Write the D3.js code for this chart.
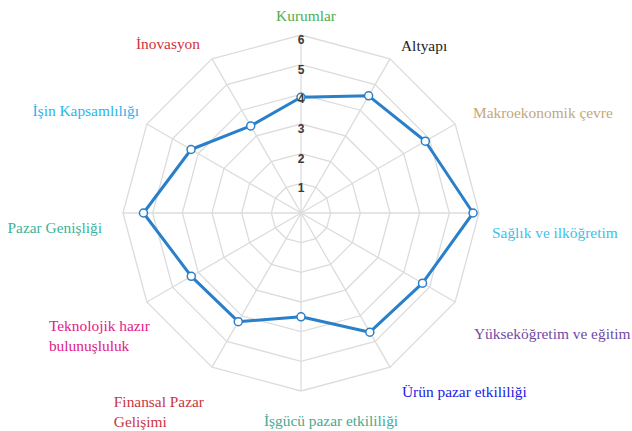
<!DOCTYPE html>
<html>
<head>
<meta charset="utf-8">
<script src="https://cdn.jsdelivr.net/npm/d3@7"></script>
<style>
  body { margin: 0; background: #fff; }
  svg { display: block; }
</style>
</head>
<body>
<svg id="radar" width="632" height="431"></svg>
<script>
// pillar names (clockwise from top), scores and label colours
var pillars = ["Kurumlar", "Altyapı", "Makroekonomik çevre", "Sağlık ve ilköğretim",
  "Yükseköğretim ve eğitim", "Ürün pazar etkililiği", "İşgücü pazar etkililiği",
  "Finansal Pazar|Gelişimi", "Teknolojik hazır|bulunuşluluk", "Pazar Genişliği",
  "İşin Kapsamlılığı", "İnovasyon"];
var scores = [3.9, 4.56, 4.84, 5.8, 4.73, 4.64, 3.5, 4.23, 4.27, 5.31, 4.28, 3.39];
var ticks = [1, 2, 3, 4, 5, 6];
var labelColors = ["#4cae4f", "#222222", "#c4a67a", "#3cbfeb", "#6f4aa6", "#2020e8",
  "#4aa890", "#c9363f", "#e2188a", "#3bb39a", "#2cb3ea", "#d3303a"];
// small nudges for the outer labels [dx, dy]
var labelNudge = [[5, -4], [3, 0], [4, -4], [-3, 19], [5, 23], [4, 10], [30, 13],
  [0, 30], [17, 25], [-5, 14], [6, -6], [-4, -2]];

var svg = d3.select("#radar");
var cx = 301, cy = 213, R = 178;

var g = svg.append("g").attr("transform", "translate(" + cx + "," + cy + ")");

var angle = d3.scaleLinear().domain([0, pillars.length]).range([0, 2 * Math.PI]);
var rScale = d3.scaleLinear().domain([0, 6]).range([0, R]);

var ringLine = d3.lineRadial()
  .angle(function(d, i) { return angle(i); })
  .radius(function(d) { return rScale(d); })
  .curve(d3.curveLinearClosed);

/* grid rings */
ticks.forEach(function(t) {
  g.append("path")
    .attr("d", ringLine(pillars.map(function() { return t; })))
    .attr("fill", "none")
    .attr("stroke", "#dcdcdc")
    .attr("stroke-width", 1.3);
});

/* spokes */
g.selectAll(".spoke")
  .data(pillars)
  .enter().append("line")
  .attr("class", "spoke")
  .attr("x1", 0).attr("y1", 0)
  .attr("x2", function(d, i) { return rScale(6) * Math.sin(angle(i)); })
  .attr("y2", function(d, i) { return -rScale(6) * Math.cos(angle(i)); })
  .attr("stroke", "#dcdcdc")
  .attr("stroke-width", 1.3);

/* data line */
g.append("path")
  .attr("d", ringLine(scores))
  .attr("fill", "none")
  .attr("stroke", "#2a7fc9")
  .attr("stroke-width", 3)
  .attr("stroke-linejoin", "round");

g.selectAll(".dot")
  .data(scores)
  .enter().append("circle")
  .attr("class", "dot")
  .attr("r", 4)
  .attr("cx", function(d, i) { return rScale(d) * Math.sin(angle(i)); })
  .attr("cy", function(d, i) { return -rScale(d) * Math.cos(angle(i)); })
  .attr("fill", "#fff")
  .attr("stroke", "#2a7fc9")
  .attr("stroke-width", 1.5);

/* tick labels, drawn over the line */
g.selectAll(".tick")
  .data(ticks)
  .enter().append("text")
  .attr("class", "tick")
  .attr("x", 0)
  .attr("y", function(d) { return -rScale(d) + 5; })
  .attr("text-anchor", "middle")
  .attr("dominant-baseline", "central")
  .style("font-family", "Liberation Sans, Arial, sans-serif")
  .style("font-size", "12px")
  .style("font-weight", "bold")
  .attr("fill", "#3a3a3a")
  .text(function(d) { return d; });

/* outer labels */
var lr = R + 16;
pillars.forEach(function(name, i) {
  var a = angle(i), s = Math.sin(a);
  var lines = name.split("|");
  var px = lr * s + labelNudge[i][0];
  var py = -lr * Math.cos(a) + labelNudge[i][1];
  var t = g.append("text")
    .style("font-family", "Liberation Serif, Times New Roman, serif")
    .style("font-size", "15.4px")
    .attr("fill", labelColors[i])
    .attr("dominant-baseline", "central");
  lines.forEach(function(l, k) {
    t.append("tspan")
      .attr("y", py + (k - (lines.length - 1) / 2) * 19.5)
      .text(l);
  });
  if (lines.length > 1) {
    // multi line labels are left aligned, right edge at the anchor point
    var w = d3.max(t.selectAll("tspan").nodes(), function(n) { return n.getComputedTextLength(); });
    t.selectAll("tspan").attr("x", px - w);
  } else {
    t.selectAll("tspan").attr("x", px);
    t.attr("text-anchor", s > 0.01 ? "start" : (s < -0.01 ? "end" : "middle"));
  }
});
</script>
</body>
</html>
